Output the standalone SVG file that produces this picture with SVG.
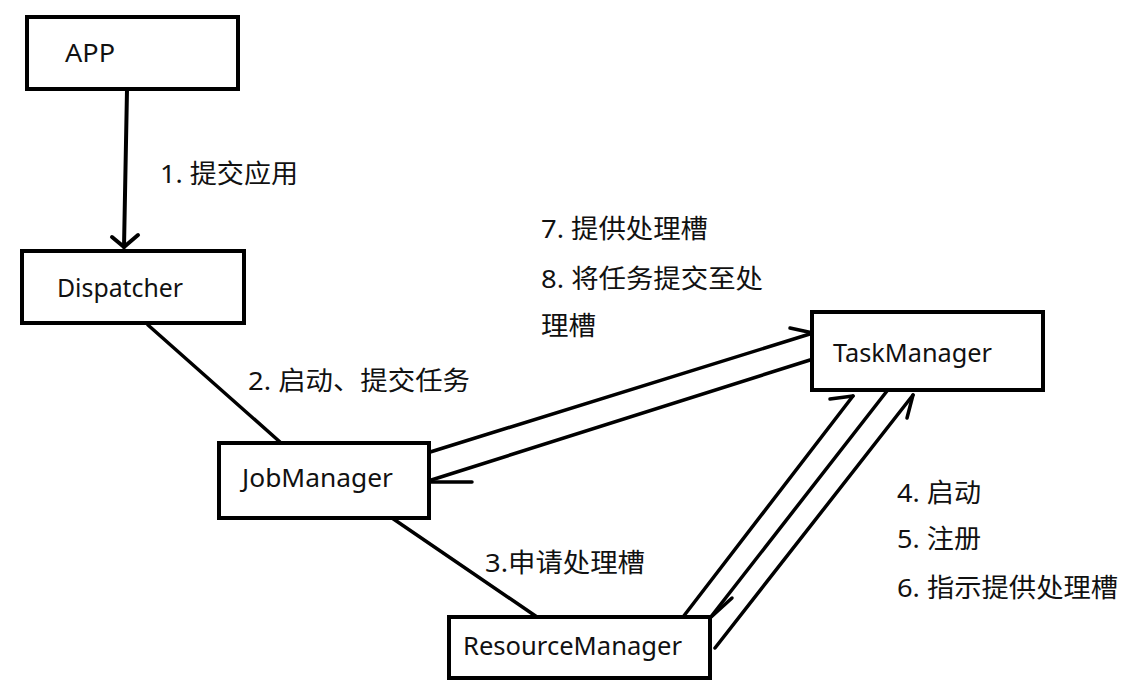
<svg xmlns="http://www.w3.org/2000/svg" width="1133" height="694" viewBox="0 0 1133 694">
<style>
.box{fill:#fff;stroke:#000;stroke-width:4}
.ln{fill:none;stroke:#000;stroke-width:3.5;stroke-linecap:round;stroke-linejoin:round}
.t{font-family:"Noto Sans","Noto Sans CJK SC",sans-serif;font-size:26px;fill:#111}
.c{font-family:"Noto Sans","Noto Sans CJK SC",sans-serif;font-size:26px;fill:#111}
</style>
<rect width="1133" height="694" fill="#fff"/>
<g id="connectors">
<polyline class="ln" style="stroke-width:4" points="127,90 124,247"/>
<polyline class="ln" style="stroke-width:4" points="112,237 124,247 138,235"/>
<polyline class="ln" points="148,325 280,442"/>
<polyline class="ln" points="392,518 537,617"/>
<polyline class="ln" points="427,453 813,333"/>
<polyline class="ln" points="790,328 813,333"/>
<polyline class="ln" points="810,360 425,482"/>
<polyline class="ln" points="425,482 472,482"/>
<polyline class="ln" points="683,617 853,396"/>
<polyline class="ln" points="830,399 853,396"/>
<polyline class="ln" points="887,391 710,618"/>
<polyline class="ln" points="710,618 732,598"/>
<polyline class="ln" points="715,648 913,395"/>
<polyline class="ln" points="913,395 907,418"/>
</g>
<g id="app"><rect class="box" x="27" y="17" width="211" height="72"/><text class="t" x="65" y="62" textLength="50" lengthAdjust="spacingAndGlyphs">APP</text></g>
<g id="dispatcher"><rect class="box" x="22" y="251" width="222" height="72"/><text class="t" x="57" y="297" textLength="126" lengthAdjust="spacingAndGlyphs">Dispatcher</text></g>
<g id="jobmanager"><rect class="box" x="219" y="443" width="210" height="75"/><text class="t" x="242" y="487" textLength="151" lengthAdjust="spacingAndGlyphs">JobManager</text></g>
<g id="resourcemanager"><rect class="box" x="449" y="617" width="261" height="61"/><text class="t" x="463" y="655" textLength="219" lengthAdjust="spacingAndGlyphs">ResourceManager</text></g>
<g id="taskmanager"><rect class="box" x="812" y="312" width="231" height="78"/><text class="t" x="833" y="362" textLength="159" lengthAdjust="spacingAndGlyphs">TaskManager</text></g>
<g id="labels">
<text class="c" x="160" y="183" textLength="138" lengthAdjust="spacingAndGlyphs">1. 提交应用</text>
<text class="c" x="541" y="238" textLength="167" lengthAdjust="spacingAndGlyphs">7. 提供处理槽</text>
<text class="c" x="541" y="288" textLength="222" lengthAdjust="spacingAndGlyphs">8. 将任务提交至处</text>
<text class="c" x="541" y="335" textLength="55" lengthAdjust="spacingAndGlyphs">理槽</text>
<text class="c" x="248" y="390" textLength="222" lengthAdjust="spacingAndGlyphs">2. 启动、提交任务</text>
<text class="c" x="485" y="572" textLength="160" lengthAdjust="spacingAndGlyphs">3.申请处理槽</text>
<text class="c" x="897" y="502" textLength="84" lengthAdjust="spacingAndGlyphs">4. 启动</text>
<text class="c" x="897" y="548" textLength="84" lengthAdjust="spacingAndGlyphs">5. 注册</text>
<text class="c" x="897" y="597" textLength="221" lengthAdjust="spacingAndGlyphs">6. 指示提供处理槽</text>
</g>
</svg>
